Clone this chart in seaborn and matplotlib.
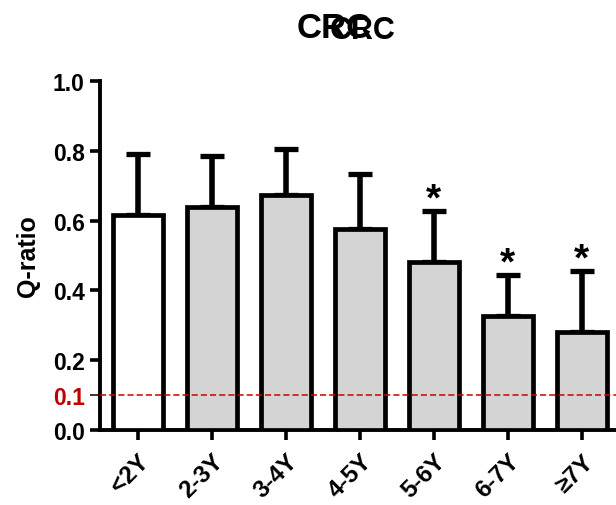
import matplotlib
matplotlib.use("Agg")
import matplotlib.pyplot as plt
import seaborn as sns
import pandas as pd

categories = ["<2Y", "2-3Y", "3-4Y", "4-5Y", "5-6Y", "6-7Y", "≥7Y"]
q_ratio = [0.616, 0.639, 0.673, 0.576, 0.481, 0.327, 0.281]
err_upper = [0.174, 0.146, 0.132, 0.157, 0.146, 0.117, 0.174]
significant = [False, False, False, False, True, True, True]
bar_colors = ["#ffffff"] + ["#d4d4d4"] * 6
threshold = 0.1
yticks = [0.0, 0.1, 0.2, 0.4, 0.6, 0.8, 1.0]

sns.set_theme(style="ticks")
plt.rcParams["font.family"] = ["Liberation Sans", "DejaVu Sans"]
plt.rcParams["font.weight"] = "bold"
plt.rcParams["text.color"] = "black"
plt.rcParams["axes.labelcolor"] = "black"
plt.rcParams["xtick.color"] = "black"
plt.rcParams["ytick.color"] = "black"
plt.rcParams["axes.edgecolor"] = "black"

df = pd.DataFrame({"group": categories, "q": q_ratio})

fig = plt.figure(figsize=(6.16, 5.06), dpi=100)
ax = fig.add_axes([100 / 616, 1 - 431 / 506, 1 - 100 / 616, (431 - 82) / 506])

sns.barplot(data=df, x="group", y="q", hue="group", palette=bar_colors,
            legend=False, width=0.68, edgecolor="black", linewidth=3.4,
            ax=ax, zorder=3)

xs = list(range(len(categories)))
ax.errorbar(xs, q_ratio, yerr=[[0] * len(xs), err_upper], fmt="none",
            ecolor="black", elinewidth=4.0, capsize=8.3, capthick=3.8, zorder=2)

for x, v, e, s in zip(xs, q_ratio, err_upper, significant):
    if s:
        ax.annotate("*", (x, v + e), xytext=(0, 1), textcoords="offset points",
                    ha="center", va="baseline", fontsize=28, fontweight="bold")

ax.axhline(threshold, color="#cc0000", ls=(0, (4, 2)), lw=1.1, zorder=4)

ax.set_ylim(0, 1.0)
ax.set_xlim(-0.51, 6.46)
ax.set_yticks(yticks)
ax.set_yticklabels([f"{t:.1f}" for t in yticks], fontweight="bold")
ax.set_xticks(xs)
ax.set_xticklabels(categories, rotation=45, ha="right", rotation_mode="anchor",
                   fontweight="bold", fontsize=17.5)

ax.tick_params(axis="both", length=7, width=2.6, color="black")
ax.tick_params(axis="y", pad=4, labelsize=16.5)
ax.tick_params(axis="x", pad=7, labelsize=17.5)

for tick, val in zip(ax.yaxis.get_major_ticks(), yticks):
    if abs(val - threshold) < 1e-9:
        tick.tick1line.set_color("#cc0000")
        tick.tick1line.set_markeredgewidth(1.1)
        tick.label1.set_color("#c00000")

for sp in ["left", "bottom"]:
    ax.spines[sp].set_linewidth(2.8)
    ax.spines[sp].set_color("black")
sns.despine(ax=ax)

ax.set_xlabel("")
ax.set_ylabel("Q-ratio", fontsize=18, fontweight="bold", labelpad=9)

fig.text(334 / 616, 1 - 29 / 506, "CRC", ha="center", va="center",
         fontsize=25, fontweight="bold")
fig.text(363 / 616, 1 - 31 / 506, "CRC", ha="center", va="center",
         fontsize=22, fontweight="bold")

fig.savefig("out.png", dpi=100)
